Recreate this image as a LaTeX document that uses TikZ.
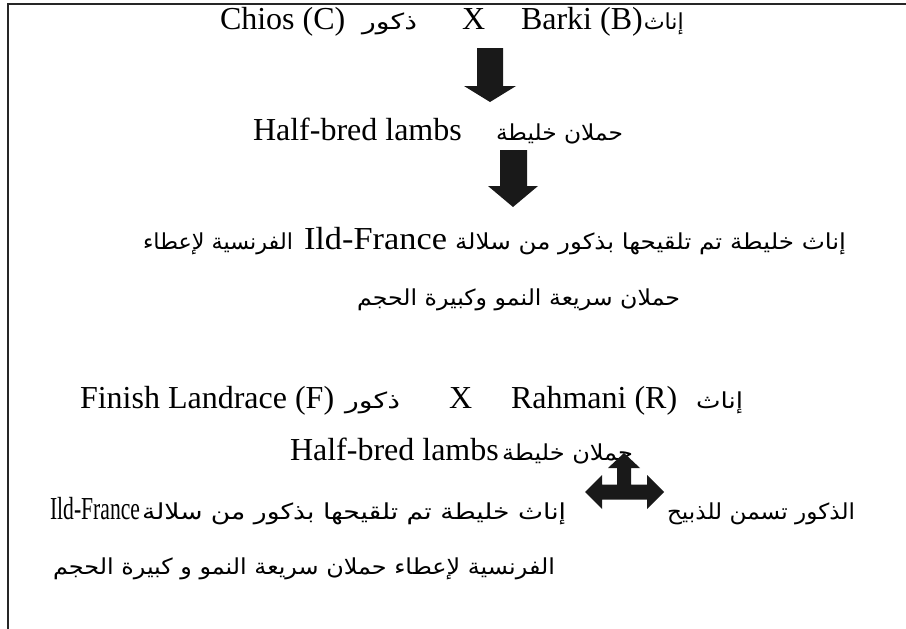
\documentclass[tikz,border=0pt]{standalone}
\usepackage{fontspec}
\usepackage{graphicx}
\setmainfont{Liberation Serif}
\newfontfamily\arabicfont[Script=Arabic]{DejaVu Sans}
\TeXXeTstate=1
\tikzset{
  lat/.style={inner sep=0pt, outer sep=0pt, anchor=base west, font=\fontsize{32}{38}\selectfont},
  arn/.style={inner sep=0pt, outer sep=0pt, anchor=base west, font=\fontsize{22}{26}\selectfont\arabicfont},
  blockarrow/.style={fill=black!90},
  frame/.style={line width=2pt, black!85}
}
\begin{document}
\begin{tikzpicture}[x=1pt,y=-1pt]
\useasboundingbox (0,0) rectangle (906,629);
\fill[white] (0,0) rectangle (906,629);
\draw[frame] (8,629) -- (8,4) -- (906,4);

% line 1
\node[lat] (chios) at (220,30) {Chios (C)};
\node[arn] (m1) at (362,30) {\resizebox{55pt}{\height}{\beginR ذكور\endR}};
\node[lat] (x1) at (462,30) {X};
\node[lat] (barki) at (521,30) {Barki (B)};
\node[arn, anchor=base west] (f1) at ([xshift=1pt]barki.base east) {\resizebox{40pt}{\height}{\beginR إناث\endR}};

% arrow 1
\fill[blockarrow] (477,48) -- (503,48) -- (503,86) -- (516,86) -- (490,102) -- (464,86) -- (477,86) -- cycle;

% line 2
\node[lat] (hb1) at (253,140) {Half-bred lambs};
\node[arn] (hba1) at (496,140) {\resizebox{127pt}{\height}{\beginR حملان خليطة\endR}};

% arrow 2
\fill[blockarrow] (500,150) -- (527,150) -- (527,186) -- (538,186) -- (513,207) -- (488,186) -- (500,186) -- cycle;

% lines 3-4
\node[arn] (t3a) at (455,249) {\resizebox{391pt}{\height}{\beginR إناث خليطة تم تلقيحها بذكور من سلالة\endR}};
\node[lat] (t3b) at (304,249) {\resizebox{143pt}{\height}{Ild-France}};
\node[arn] (t3c) at (143,249) {\resizebox{150pt}{\height}{\beginR الفرنسية لإعطاء\endR}};
\node[arn] (t4) at (357,305) {\resizebox{323pt}{\height}{\beginR حملان سريعة النمو وكبيرة الحجم\endR}};

% line 5
\node[lat] (fin) at (80,408) {Finish Landrace (F)};
\node[arn] (m2) at (345,408) {\resizebox{55pt}{\height}{\beginR ذكور\endR}};
\node[lat] (x2) at (449,408) {X};
\node[lat] (rah) at (511,408) {Rahmani (R)};
\node[arn] (f2) at (696,408) {\resizebox{47pt}{\height}{\beginR إناث\endR}};

% line 6
\node[lat] (hb2) at (290,460) {Half-bred lambs};
\node[arn] (hba2) at (502,460) {\resizebox{131pt}{\height}{\beginR حملان خليطة\endR}};

% three-way arrow
\fill[blockarrow] (585,492) -- (602,475) -- (602,484.5) -- (617,484.5) -- (617,468) -- (608,468)
  -- (624,453) -- (640,468) -- (631,468) -- (631,484.5) -- (647,484.5) -- (647,475)
  -- (664,492) -- (647,509) -- (647,499.5) -- (602,499.5) -- (602,509) -- cycle;

% lines 7-8
\node[arn] (t7r) at (667,519) {\resizebox{188pt}{\height}{\beginR الذكور تسمن للذبيح\endR}};
\node[arn] (t7a) at (142,519) {\resizebox{424pt}{\height}{\beginR إناث خليطة تم تلقيحها بذكور من سلالة\endR}};
\node[lat] (t7b) at (50,519) {\resizebox{90pt}{\height}{Ild-France}};
\node[arn] (t8) at (53,574) {\resizebox{502pt}{\height}{\beginR الفرنسية لإعطاء حملان سريعة النمو و كبيرة الحجم\endR}};
\end{tikzpicture}
\end{document}
